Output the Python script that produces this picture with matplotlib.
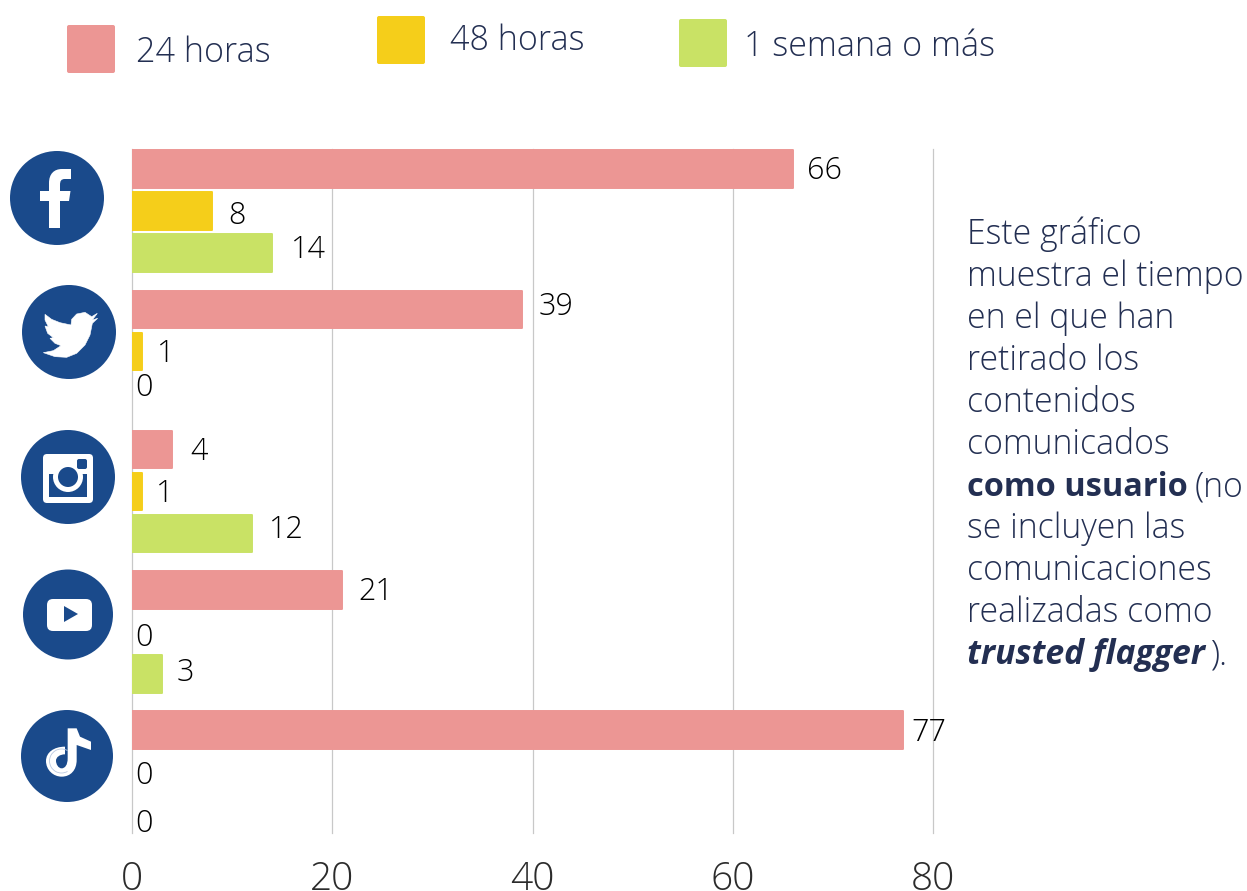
import matplotlib
matplotlib.use("Agg")
import matplotlib.pyplot as plt
import numpy as np
from matplotlib.patches import Arc, Circle, Rectangle, FancyBboxPatch, Polygon, PathPatch
from matplotlib.path import Path

# values
h24 = [66, 39, 4, 21, 77]
h48 = [8, 1, 1, 0, 0]
week = [14, 0, 12, 3, 0]
legend_labels = ["24 horas", "48 horas", "1 semana o más"]
xticks = [0, 20, 40, 60, 80]
body_lines = ["Este gráfico", "muestra el tiempo", "en el que han", "retirado los",
              "contenidos", "comunicados", None, "se incluyen las",
              "comunicaciones", "realizadas como", None]

PINK = "#ec9694"
YELLOW = "#f5ce1a"
GREEN = "#c9e265"
NAVY = "#1a4a8b"
INK = "#232f52"
FONT = ["Open Sans", "DejaVu Sans"]
plt.rcParams["font.family"] = FONT

W, H = 1247, 891
fig = plt.figure(figsize=(W / 100, H / 100), dpi=100, facecolor="white")

# plot area in pixels: x 132-933, y 149-833
ax = fig.add_axes([132 / W, 1 - 833 / H, (933 - 132) / W, (833 - 149) / H])
ax.set_xlim(0, 80)
pitch = 140.25
ax.set_ylim((833 - 211) / pitch, -(211 - 149) / pitch)
for s in ax.spines.values():
    s.set_visible(False)
ax.set_yticks([])
ax.set_xticks(xticks)
ax.tick_params(axis="x", length=0, pad=19.5, labelsize=28, labelcolor="#2b2b2b")
for t in ax.get_xticklabels():
    t.set_fontweight("light")
ax.grid(axis="x", color="#c8c8c8", lw=0.9)
for g in ax.get_xgridlines():
    g.set_clip_on(False)
ax.set_axisbelow(True)

y = np.arange(5)
step = 42 / pitch
bh = 37.5 / pitch
series = [(h24, PINK, -step), (h48, YELLOW, 0), (week, GREEN, step)]
for vals, col, off in series:
    bars = ax.barh(y + off, vals, height=bh, color=col, edgecolor=col, lw=1.4)
    for b, v in zip(bars, vals):
        b.set_joinstyle("round")
        b.set_visible(v > 0)

# label offsets from the bar end, in pixels, series by series
lab_dx = [[14, 16, 18, 16, 8], [16, 15, 14, 3, 3], [19, 3, 17, 15, 3]]
lab_dy = [[2, -2, 3, 2, 3], [5, 3, 3, 6, 4], [-3, -5, -4, -1, 10]]
for k, (vals, col, off) in enumerate(series):
    for i, v in enumerate(vals):
        ax.annotate(str(v), (v, i + off), xytext=(lab_dx[k][i] * 0.72, -lab_dy[k][i] * 0.72),
                    textcoords="offset points", va="center", ha="left",
                    fontsize=22, color="black", fontweight="light")

# overlay in figure pixels for legend, icons and side text
ov = fig.add_axes([0, 0, 1, 1], facecolor="none")
ov.set_xlim(0, W)
ov.set_ylim(H, 0)
ov.axis("off")


def box(x0, y0, x1, y1, col, r=2):
    ov.add_patch(FancyBboxPatch((x0 + r, y0 + r), x1 - x0 - 2 * r, y1 - y0 - 2 * r,
                                boxstyle="round,pad=%g,rounding_size=%g" % (r, r),
                                fc=col, ec="none"))


box(67, 25, 115, 73, PINK)
box(377, 16, 425, 64, YELLOW)
box(679, 19, 727, 67, GREEN)
ov.text(136, 61.5, legend_labels[0], fontsize=24.5, color=INK, va="baseline", fontweight="light")
ov.text(450, 50, legend_labels[1], fontsize=24.5, color=INK, va="baseline", fontweight="light")
ov.text(744, 56, legend_labels[2], fontsize=24.5, color=INK, va="baseline", fontweight="light")

# circles behind the logos
for cx, cy, r in [(57, 198, 47), (69, 332, 47), (68, 477, 47), (68, 614.5, 45), (67, 756, 46)]:
    ov.add_patch(Circle((cx, cy), r, fc=NAVY, ec="none"))

# facebook f
M, L, C = Path.MOVETO, Path.LINETO, Path.CURVE4
fb = [(49, 228), (49, 201), (40, 201), (40, 191), (49, 191), (49, 183),
      (49, 174), (54, 169), (62, 169), (71, 169), (71, 179), (65, 179),
      (61, 179), (60, 181), (60, 185), (60, 191), (70.5, 191), (69, 201), (60, 201), (60, 228), (49, 228)]
fb_codes = [M, L, L, L, L, L, C, C, C, L, L, L, C, C, C, L, L, L, L, L, Path.CLOSEPOLY]
ov.add_patch(PathPatch(Path(fb, fb_codes), fc="white", ec="none"))

# twitter bird, traced on a 3x crop from (35, 300)
bird = [(187, 40), (170, 50), (150, 37), (125, 42), (110, 58), (108, 75), (75, 68), (50, 58), (30, 43),
        (30, 60), (40, 80), (30, 78), (38, 100), (55, 113), (45, 115), (60, 130), (78, 137),
        (55, 152), (25, 158), (60, 170), (95, 172), (125, 160), (150, 135), (165, 105), (172, 70),
        (188, 55), (172, 60)]
ov.add_patch(Polygon([(a / 3 + 35, b / 3 + 300) for a, b in bird], fc="white", ec="white", lw=0.4))

# instagram
box(43, 454, 93, 503, "white", r=4)
ov.add_patch(Rectangle((49, 474), 38, 23, fc=NAVY, ec="none"))
ov.add_patch(Circle((68, 477), 15, fc="white", ec="none"))
ov.add_patch(Circle((68, 477), 10, fc=NAVY, ec="none"))
box(77, 459, 87, 469, NAVY, r=2)

# youtube
box(47, 599, 92, 631, "white", r=6)
ov.add_patch(Polygon([(64, 606), (64, 622), (78, 614)], fc=NAVY, ec="none"))

# tiktok, traced on a 3x crop from (30, 715)
tk = [(113, 40), (113, 130), (113, 150), (105, 160), (95, 160), (85, 160), (78, 148), (78, 137),
      (78, 126), (90, 118), (105, 118), (105, 95), (72, 95), (48, 112), (48, 138),
      (48, 165), (70, 185), (95, 185), (122, 185), (140, 165), (140, 135), (140, 90),
      (183, 105), (183, 80), (150, 65), (140, 40), (113, 40)]
tk_codes = [M, L, C, C, C, C, C, C, C, C, C, L, C, C, C, C, C, C, C, C, C, L, L, L, L, L, Path.CLOSEPOLY]
ov.add_patch(PathPatch(Path([(a / 3 + 30, b / 3 + 715) for a, b in tk], tk_codes), fc="white", ec="none"))
ov.add_patch(Arc((61.5, 761), 24, 24, theta1=60, theta2=300, ec="#b9c8e0", lw=0.6))

# side note
base = 244
for i, line in enumerate(body_lines):
    if line:
        ov.text(967, base + 42 * i, line, fontsize=24.3, color=INK, va="baseline", fontweight="light")
ov.text(967, base + 42 * 6, "como usuario", fontsize=23.4, color=INK, va="baseline", fontweight="bold")
ov.text(1195, base + 42 * 6, "(no", fontsize=24.3, color=INK, va="baseline", fontweight="light")
ov.text(967, base + 42 * 10, "trusted flagger", fontsize=24.3, color=INK, va="baseline",
        fontweight="bold", fontstyle="italic")
ov.text(1210, base + 42 * 10, ").", fontsize=24.3, color=INK, va="baseline", fontweight="light")

fig.savefig("out.png", dpi=100)
